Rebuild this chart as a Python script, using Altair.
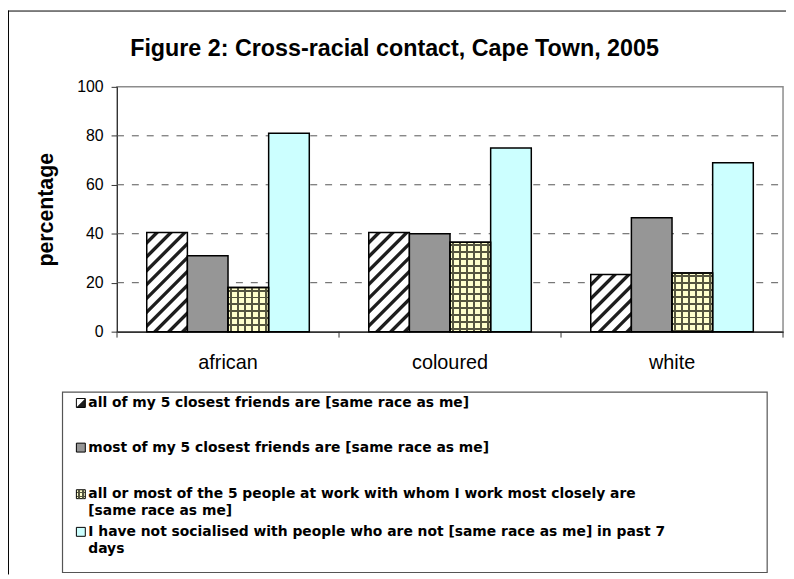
import altair as alt

# ---------------- data ----------------
categories = ["african", "coloured", "white"]
series_keys = ["s1", "s2", "s3", "s4"]
all_friends = [40.5, 40.5, 23.3]
most_friends = [31.0, 40.0, 46.5]
work_people = [18.0, 36.5, 24.0]
not_socialised = [81.0, 75.0, 69.0]
y_ticks = [0, 20, 40, 60, 80, 100]
grid_values = [20, 40, 60, 80]
legend_lines = [
    ["all of my 5 closest friends are [same race as me]"],
    ["most of my 5 closest friends are [same race as me]"],
    ["all or most of the 5 people at work with whom I work most closely are",
     "[same race as me]"],
    ["I have not socialised with people who are not [same race as me] in past 7",
     "days"],
]
title_text = "Figure 2: Cross-racial contact, Cape Town, 2005"
y_title = "percentage"

# ---------------- layout ----------------
W, H = 672, 247
FONT = "Liberation Sans"
LEG_FONT = "DejaVu Sans"
band = W / len(categories)
bar_w = 41.0
pad_outer = (band / bar_w - len(series_keys)) / 2

DARK = "#1e1e1e"
GRID_LINE = "#55553f"
CREAM = "#FFFFCC"
GREY = "#969696"
CYAN = "#CCFFFF"
CLEAR = "rgba(0,0,0,0)"


def hatch(w, h, period=14.0):
    k = w / (w * w + h * h)
    stops = []
    s = 0.0
    while s < w + h + period:
        for frac, col in [(0.0, "#ffffff"), (0.52, "#ffffff"), (0.62, DARK),
                          (0.86, DARK), (0.96, "#ffffff")]:
            stops.append({"offset": round(min(1.0, (s + frac * period) * k), 5), "color": col})
        s += period
    return {"gradient": "linear", "x1": 0, "y1": 0, "x2": 1, "y2": h / w, "stops": stops}


def lines(total, base, line, period=7.0, thick=2.0, vertical=False):
    stops = []
    pos = 2.0
    stops.append({"offset": 0, "color": base})
    while pos < total:
        a = round(min(1.0, pos / total), 5)
        b = round(min(1.0, (pos + thick) / total), 5)
        stops += [{"offset": a, "color": base}, {"offset": a, "color": line},
                  {"offset": b, "color": line}, {"offset": b, "color": base}]
        pos += period
    stops.append({"offset": 1, "color": base})
    if vertical:
        return {"gradient": "linear", "x1": 0, "y1": 0, "x2": 1, "y2": 0, "stops": stops}
    return {"gradient": "linear", "x1": 0, "y1": 0, "x2": 0.000001, "y2": 1, "stops": stops}


series_values = [all_friends, most_friends, work_people, not_socialised]
rows = []
for ci, cat in enumerate(categories):
    for si, vals in enumerate(series_values):
        v = vals[ci]
        h = v / 100.0 * H
        if si == 0:
            f = hatch(bar_w, h)
        elif si == 1:
            f = GREY
        elif si == 2:
            f = lines(h, CREAM, GRID_LINE)
        else:
            f = CYAN
        ov = lines(bar_w, CLEAR, GRID_LINE, vertical=True) if si == 2 else CLEAR
        rows.append({"category": cat, "series": series_keys[si], "value": v,
                     "fill": f, "overlay": ov})

bar_data = alt.Data(values=rows)

x_axis = alt.Axis(title=None, ticks=False, labelAngle=0, labelFont=FONT, labelFontSize=20,
                  labelColor="black", labelPadding=21, domainColor="#333333",
                  domainWidth=1.5, grid=False)
y_axis = alt.Axis(values=y_ticks, title=y_title, titleFont=FONT,
                  titleFontSize=21.5, titleFontWeight="bold", titleColor="black",
                  titleAngle=-90, titleX=-71, titleY=H / 2,
                  titleAlign="center", titleBaseline="middle",
                  labelFont=FONT, labelFontSize=16, labelColor="black",
                  labelPadding=8, tickSize=6, tickColor="#333333",
                  domainColor="#333333", grid=False)
x_scale = alt.Scale(paddingInner=0, paddingOuter=0)
y_scale = alt.Scale(domain=[0, 100], nice=False)
x_enc = alt.X("category:N", sort=categories, scale=x_scale, axis=x_axis)
xo_enc = alt.XOffset("series:N", sort=series_keys,
                     scale=alt.Scale(paddingInner=0, paddingOuter=pad_outer))
y_enc = alt.Y("value:Q", scale=y_scale, axis=y_axis)

bars = alt.Chart(bar_data).mark_bar(stroke="black", strokeWidth=1.5).encode(
    x=x_enc, xOffset=xo_enc, y=y_enc,
    fill=alt.Fill("fill:N", scale=None),
)

grid = alt.Chart(alt.Data(values=[{"value": g} for g in grid_values])).mark_rule(
    stroke="#555555", strokeWidth=1, strokeDash=[7, 8]
).encode(y=y_enc, x=alt.value(0), x2=alt.value(W))

overlay = alt.Chart(bar_data).mark_bar(strokeWidth=0).encode(
    x=x_enc, xOffset=xo_enc, y=y_enc,
    fill=alt.Fill("overlay:N", scale=None),
).transform_filter(alt.datum.series == "s3")

outline = alt.Chart(bar_data).mark_bar(stroke="black", strokeWidth=1.5, fillOpacity=0).encode(
    x=x_enc, xOffset=xo_enc, y=y_enc,
).transform_filter(alt.datum.series == "s3")

tick_rows = [{"category": c} for c in categories]
xticks = alt.Chart(alt.Data(values=tick_rows)).mark_rule(stroke="#333333", strokeWidth=1).encode(
    x=alt.X("category:N", sort=categories, scale=x_scale, axis=x_axis, bandPosition=0),
    y=alt.value(H), y2=alt.value(H + 6))
xtick_end = alt.Chart(alt.Data(values=tick_rows[-1:])).mark_rule(stroke="#333333", strokeWidth=1).encode(
    x=alt.X("category:N", sort=categories, scale=x_scale, axis=x_axis, bandPosition=1),
    y=alt.value(H), y2=alt.value(H + 6))

one = alt.Data(values=[{"k": 1}])
layers = [grid, bars, overlay, outline, xticks, xtick_end]

# title
layers.append(alt.Chart(one).mark_text(
    font=FONT, fontSize=23.5, fontWeight="bold", color="black",
    align="center", baseline="middle").encode(
    x=alt.value(280), y=alt.value(-38), text=alt.value(title_text)))

# outer chart border (left and top)
layers.append(alt.Chart(one).mark_rule(stroke="black", strokeWidth=1).encode(
    x=alt.value(-109.5), y=alt.value(-77), y2=alt.value(H + 245)))
layers.append(alt.Chart(one).mark_rule(stroke="black", strokeWidth=1).encode(
    x=alt.value(-110), x2=alt.value(W + 3), y=alt.value(-76.5)))

# legend box
LX0, LX1, LY0, LY1 = -55, 656, 308, 490
layers.append(alt.Chart(one).mark_rect(fill="white", stroke="#555555", strokeWidth=1.2).encode(
    x=alt.value(LX0), x2=alt.value(LX1), y=alt.value(LY0), y2=alt.value(LY1)))

legend_row_y = [319, 364, 411, 449]
line_gap = 17
sym_fills = [
    {"gradient": "linear", "x1": 0, "y1": 0, "x2": 1, "y2": 1,
     "stops": [{"offset": 0, "color": "white"}, {"offset": 0.48, "color": "white"},
               {"offset": 0.52, "color": DARK}, {"offset": 1, "color": DARK}]},
    GREY,
    lines(9, CREAM, GRID_LINE, period=4.0, thick=1.5),
    CYAN,
]
for i, (ly, lns) in enumerate(zip(legend_row_y, legend_lines)):
    layers.append(alt.Chart(one).mark_rect(stroke="black", strokeWidth=1).encode(
        x=alt.value(-41), x2=alt.value(-32), y=alt.value(ly - 4.5), y2=alt.value(ly + 4.5),
        fill=alt.value(sym_fills[i])))
    if i == 2:
        layers.append(alt.Chart(one).mark_rect(strokeWidth=0).encode(
            x=alt.value(-41), x2=alt.value(-32), y=alt.value(ly - 4.5), y2=alt.value(ly + 4.5),
            fill=alt.value(lines(9, CLEAR, GRID_LINE, period=4.0, thick=1.5, vertical=True))))
    for j, t in enumerate(lns):
        layers.append(alt.Chart(one).mark_text(
            font=LEG_FONT, fontSize=14, fontWeight="bold", color="black",
            align="left", baseline="middle").encode(
            x=alt.value(-29), y=alt.value(ly + j * line_gap), text=alt.value(t)))

chart = alt.layer(*layers).properties(
    width=W, height=H,
    autosize=alt.AutoSizeParams(type="none"),
    padding={"left": 110, "top": 77, "right": 3, "bottom": 245},
).configure_view(stroke="#8c8c8c", strokeWidth=1.5)

chart.save("out.html", embed_options={"renderer": "svg", "actions": False})
